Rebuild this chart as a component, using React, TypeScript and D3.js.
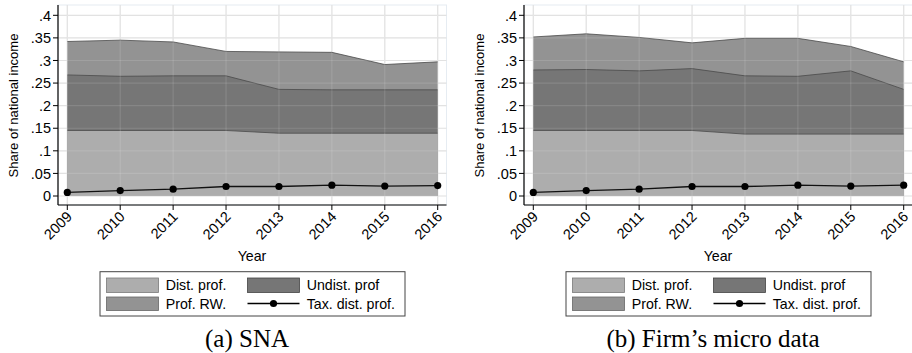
import React from "react";
import * as d3 from "d3";

const years = [2009, 2010, 2011, 2012, 2013, 2014, 2015, 2016];
const yTicks = [0, 0.05, 0.1, 0.15, 0.2, 0.25, 0.3, 0.35, 0.4];
const yTickLabels = ["0", ".05", ".1", ".15", ".2", ".25", ".3", ".35", ".4"];

// (a) SNA
const snaDist = [0.145, 0.145, 0.145, 0.145, 0.139, 0.139, 0.139, 0.139];
const snaUndist = [0.123, 0.120, 0.121, 0.121, 0.097, 0.096, 0.096, 0.096];
const snaRW = [0.074, 0.080, 0.075, 0.054, 0.083, 0.083, 0.056, 0.062];
const snaTax = [0.008, 0.012, 0.015, 0.021, 0.021, 0.024, 0.022, 0.023];

// (b) Firm's micro data
const microDist = [0.145, 0.145, 0.145, 0.145, 0.137, 0.137, 0.137, 0.137];
const microUndist = [0.134, 0.135, 0.132, 0.137, 0.129, 0.128, 0.140, 0.099];
const microRW = [0.073, 0.079, 0.074, 0.057, 0.083, 0.084, 0.054, 0.061];
const microTax = [0.008, 0.012, 0.015, 0.021, 0.021, 0.024, 0.022, 0.024];

const seriesNames = ["Dist. prof.", "Undist. prof", "Prof. RW.", "Tax. dist. prof."];
const captions = ["(a) SNA", "(b) Firm\u2019s micro data"];
const yTitle = "Share of national income";
const xTitle = "Year";

const COL_DIST = "#adadad";
const COL_UNDIST = "#767676";
const COL_RW = "#939393";
const SANS = "'Liberation Sans', Arial, Helvetica, sans-serif";
const SERIF = "'Liberation Serif', 'Times New Roman', serif";

type PanelProps = {
  dx: number;
  dist: number[];
  undist: number[];
  rw: number[];
  tax: number[];
  caption: string;
};

function Panel({ dx, dist, undist, rw, tax, caption }: PanelProps) {
  const axisX = 58;
  const plotRight = 446.5;
  const plotTop = 5;
  const axisY = 205;
  const x = d3.scaleLinear().domain([2009, 2016]).range([67.3, 437.7]);
  const y = d3.scaleLinear().domain([0, 0.4]).range([196, 15.3]);

  const rows = years.map((yr, i) => ({ year: yr, dist: dist[i], undist: undist[i], rw: rw[i] }));
  const stack = d3.stack<any>().keys(["dist", "undist", "rw"]);
  const layers = stack(rows);
  const colors: Record<string, string> = { dist: COL_DIST, undist: COL_UNDIST, rw: COL_RW };

  const area = d3
    .area<any>()
    .x((d: any) => x(d.data.year))
    .y0(y(0))
    .y1((d: any) => y(d[1]));
  const topLine = d3
    .line<any>()
    .x((d: any) => x(d.data.year))
    .y((d: any) => y(d[1]));
  const taxLine = d3
    .line<number>()
    .x((_d, i) => x(years[i]))
    .y((d) => y(d));

  const drawOrder = [...layers].reverse();
  const centerX = 252;
  const FS = 14.5;
  const LFS = 14.2;

  return (
    <g transform={`translate(${dx},0)`}>
      <rect x={axisX} y={plotTop} width={plotRight - axisX} height={axisY - plotTop} fill="#fff" stroke="#e6ecf2" strokeWidth={1} />
      {yTicks.map((t) => (
        <line key={"gy" + t} x1={axisX} x2={plotRight} y1={y(t)} y2={y(t)} stroke="#dedede" strokeWidth={1.2} />
      ))}
      {years.map((yr) => (
        <line key={"gx" + yr} x1={x(yr)} x2={x(yr)} y1={plotTop} y2={axisY} stroke="#dedede" strokeWidth={1.2} />
      ))}
      {drawOrder.map((L) => (
        <g key={L.key}>
          <path d={area(L) || ""} fill={colors[L.key]} />
          <path d={topLine(L) || ""} fill="none" stroke="#4a4a4a" strokeWidth={0.8} />
        </g>
      ))}
      {yTicks.map((t) => (
        <line key={"gy2" + t} x1={axisX} x2={plotRight} y1={y(t)} y2={y(t)} stroke="#ffffff" strokeOpacity={0.12} strokeWidth={1.2} />
      ))}
      {years.map((yr) => (
        <line key={"gx2" + yr} x1={x(yr)} x2={x(yr)} y1={plotTop} y2={y(0)} stroke="#ffffff" strokeOpacity={0.12} strokeWidth={1.2} />
      ))}
      <path d={taxLine(tax) || ""} fill="none" stroke="#111" strokeWidth={1.3} />
      {tax.map((v, i) => (
        <circle key={"c" + i} cx={x(years[i])} cy={y(v)} r={3.6} fill="#000" />
      ))}
      <line x1={axisX} x2={axisX} y1={plotTop} y2={axisY} stroke="#000" strokeWidth={1.2} />
      <line x1={axisX} x2={plotRight} y1={axisY} y2={axisY} stroke="#000" strokeWidth={1.2} />
      {yTicks.map((t, i) => (
        <g key={"yt" + t}>
          <line x1={axisX - 5} x2={axisX} y1={y(t)} y2={y(t)} stroke="#000" strokeWidth={1} />
          <text x={axisX - 7} y={y(t)} dy="0.36em" textAnchor="end" fontSize={FS} fontFamily={SANS} fill="#000">
            {yTickLabels[i]}
          </text>
        </g>
      ))}
      {years.map((yr) => (
        <g key={"xt" + yr}>
          <line x1={x(yr)} x2={x(yr)} y1={axisY} y2={axisY + 5} stroke="#000" strokeWidth={1} />
          <text
            transform={`translate(${x(yr) + 2},${axisY + 9}) rotate(-45)`}
            textAnchor="end"
            dy="0.35em"
            fontSize={FS}
            fontFamily={SANS}
            fill="#000"
          >
            {yr}
          </text>
        </g>
      ))}
      <text transform={`translate(17.5,105.5) rotate(-90)`} textAnchor="middle" fontSize={13} fontFamily={SANS} fill="#000">
        {yTitle}
      </text>
      <text x={centerX} y={261} textAnchor="middle" fontSize={LFS} fontFamily={SANS} fill="#000">
        {xTitle}
      </text>
      <rect x={100} y={271.7} width={305} height={44.3} fill="#fff" stroke="#444" strokeWidth={1} />
      <rect x={106.5} y={278} width={52} height={14.5} fill={COL_DIST} stroke="#7a7a7a" strokeWidth={0.8} />
      <text x={165.7} y={290.2} fontSize={LFS} fontFamily={SANS} fill="#000">{seriesNames[0]}</text>
      <rect x={106.5} y={297} width={52} height={13.5} fill={COL_RW} stroke="#666" strokeWidth={0.8} />
      <text x={165.7} y={308.5} fontSize={LFS} fontFamily={SANS} fill="#000">{seriesNames[2]}</text>
      <rect x={247.5} y={278} width={52} height={14.5} fill={COL_UNDIST} stroke="#444" strokeWidth={0.8} />
      <text x={306.7} y={290.2} fontSize={LFS} fontFamily={SANS} fill="#000">{seriesNames[1]}</text>
      <line x1={247.5} x2={299.5} y1={303.5} y2={303.5} stroke="#000" strokeWidth={1.5} />
      <circle cx={273.5} cy={303.5} r={3.6} fill="#000" />
      <text x={306.7} y={308.5} fontSize={LFS} fontFamily={SANS} fill="#000">{seriesNames[3]}</text>
      <text x={247} y={347} textAnchor="middle" fontSize={25} fontFamily={SERIF} fill="#000">
        {caption}
      </text>
    </g>
  );
}

export default function App() {
  return (
    <svg
      width={912}
      height={353}
      viewBox="0 0 912 353"
      style={{ position: "absolute", left: 0, top: 0, background: "#fff" }}
    >
      <rect width={912} height={353} fill="#fff" />
      <Panel dx={0} dist={snaDist} undist={snaUndist} rw={snaRW} tax={snaTax} caption={captions[0]} />
      <Panel dx={466} dist={microDist} undist={microUndist} rw={microRW} tax={microTax} caption={captions[1]} />
    </svg>
  );
}
